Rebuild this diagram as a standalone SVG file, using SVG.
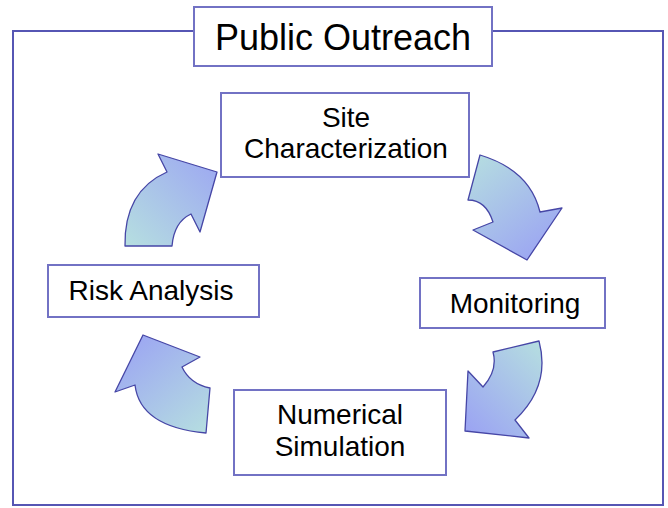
<svg xmlns="http://www.w3.org/2000/svg" width="668" height="508" viewBox="0 0 668 508">
  <style>
    .frame { fill: none; stroke: #5656b4; stroke-width: 2; }
    .box { fill: #ffffff; stroke: #7272c4; stroke-width: 2; }
    .label { font-family: "Liberation Sans", Arial, sans-serif; font-size: 28px; fill: #000000; text-anchor: middle; }
    .title { font-size: 36px; }
    .arrow { stroke: #4646a6; stroke-width: 1.3; stroke-linejoin: round; }
  </style>
  <defs>
    <linearGradient id="g1" x1="0" y1="1" x2="1" y2="0">
      <stop offset="0" stop-color="#b6dfe0"/>
      <stop offset="1" stop-color="#9ca6f2"/>
    </linearGradient>
    <linearGradient id="g2" x1="0" y1="0" x2="0.7" y2="1">
      <stop offset="0" stop-color="#b6dfe0"/>
      <stop offset="1" stop-color="#9ca6f2"/>
    </linearGradient>
    <linearGradient id="g3" x1="1" y1="0" x2="0.2" y2="1">
      <stop offset="0" stop-color="#b6dfe0"/>
      <stop offset="1" stop-color="#9ca6f2"/>
    </linearGradient>
    <linearGradient id="g4" x1="1" y1="1" x2="0.2" y2="0">
      <stop offset="0" stop-color="#b6dfe0"/>
      <stop offset="1" stop-color="#9ca6f2"/>
    </linearGradient>
  </defs>

  <rect width="668" height="508" fill="#ffffff"/>

  <!-- enclosing frame -->
  <rect class="frame" x="13" y="31" width="650" height="474"/>

  <g id="public-outreach">
    <rect class="box" x="194" y="7" width="298" height="59"/>
    <text class="label title" x="343" y="50">Public Outreach</text>
  </g>

  <g id="site-characterization">
    <rect class="box" x="221" y="93" width="248" height="84"/>
    <text class="label" x="346" y="127">Site</text>
    <text class="label" x="346" y="158">Characterization</text>
  </g>

  <g id="monitoring">
    <rect class="box" x="420" y="278" width="185" height="50"/>
    <text class="label" x="515" y="313">Monitoring</text>
  </g>

  <g id="numerical-simulation">
    <rect class="box" x="234" y="390" width="212" height="85"/>
    <text class="label" x="340" y="424">Numerical</text>
    <text class="label" x="340" y="456">Simulation</text>
  </g>

  <g id="risk-analysis">
    <rect class="box" x="48" y="265" width="211" height="52"/>
    <text class="label" x="151" y="300">Risk Analysis</text>
  </g>

  <!-- curved block arrows forming the cycle -->
  <g id="connectors">
    <path class="arrow" fill="url(#g1)" d="M125,246 L172,246 Q174,222 191,214 L200,232 L217,172 L158,154 L167,172 Q124,191 125,246 Z"/>
    <path class="arrow" fill="url(#g2)" d="M480,155 L468,200 Q486,200 493,222 L473,230 L527,260 L562,208 L540,212 Q530,170 480,155 Z"/>
    <path class="arrow" fill="url(#g3)" d="M539,341 L493,352 Q498,370 483,387 L468,371 L465,431 L529,438 L515,420 Q551,386 539,341 Z"/>
    <path class="arrow" fill="url(#g4)" d="M206,433 L210,388 Q190,384 182,367 L200,357 L143,335 L115,392 L135,385 Q140,427 206,433 Z"/>
  </g>
</svg>
